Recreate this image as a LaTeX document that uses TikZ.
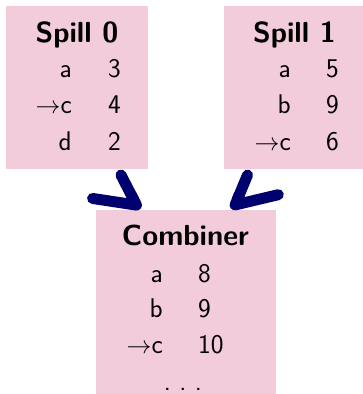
\documentclass[tikz,border=0pt]{standalone}
\usetikzlibrary{arrows.meta}
\definecolor{boxpink}{RGB}{242,204,218}
\definecolor{arrownavy}{RGB}{0,0,110}
\tikzset{
  box/.style={fill=boxpink, draw=none, inner sep=0pt, outer sep=0pt, anchor=north west},
  ttl/.style={font=\fontsize{29}{34}\selectfont\sffamily\bfseries, inner sep=0pt, anchor=base},
  cell/.style={font=\fontsize{27}{32}\selectfont\sffamily, inner sep=0pt},
  key/.style={cell, anchor=base east},
  val/.style={cell, anchor=base west},
  dotsnode/.style={cell, anchor=base},
  flow/.style={draw=arrownavy, line width=11pt, line cap=round},
  flowleft/.style={flow, -{Straight Barb[harpoon,swap,length=26pt,width=72pt,round]}},
  flowright/.style={flow, -{Straight Barb[harpoon,length=26pt,width=72pt,round]}}
}
\begin{document}
\begin{tikzpicture}[x=1pt,y=-1pt]
\useasboundingbox (0,0) rectangle (362,394);
% boxes
\node[box, minimum width=142pt, minimum height=163pt] (s0) at (6,6) {};
\node[box, minimum width=141pt, minimum height=163pt] (s1) at (224,6) {};
\node[box, minimum width=180pt, minimum height=190pt] (comb) at (96,210) {};
% Spill 0
\node[ttl] (s0t) at (77,42) {Spill 0};
\node[key] (s0k1) at (72,77) {a};
\node[val] (s0v1) at (108,77) {3};
\node[key] (s0k2) at (72,113) {$\rightarrow$c};
\node[val] (s0v2) at (108,113) {4};
\node[key] (s0k3) at (72,150) {d};
\node[val] (s0v3) at (108,150) {2};
% Spill 1
\node[ttl] (s1t) at (294.5,42) {Spill 1};
\node[key] (s1k1) at (291,77) {a};
\node[val] (s1v1) at (326,77) {5};
\node[key] (s1k2) at (291,113) {b};
\node[val] (s1v2) at (326,113) {9};
\node[key] (s1k3) at (291,150) {$\rightarrow$c};
\node[val] (s1v3) at (326,150) {6};
% Combiner
\node[ttl] (ct) at (185.5,245) {Combiner};
\node[key] (ck1) at (163,282) {a};
\node[val] (cv1) at (198,282) {8};
\node[key] (ck2) at (163,317) {b};
\node[val] (cv2) at (198,317) {9};
\node[key] (ck3) at (163,353) {$\rightarrow$c};
\node[val] (cv3) at (198,353) {10};
\node[dotsnode] (cdots) at (183,390) {.\ .\ .};
% arrows
\draw[flowleft] ([shift={(44pt,-6pt)}]s0.south) -- ([xshift=-47pt]comb.north);
\draw[flowright] ([shift={(-47pt,-6pt)}]s1.south) -- ([xshift=47pt]comb.north);
\end{tikzpicture}
\end{document}
